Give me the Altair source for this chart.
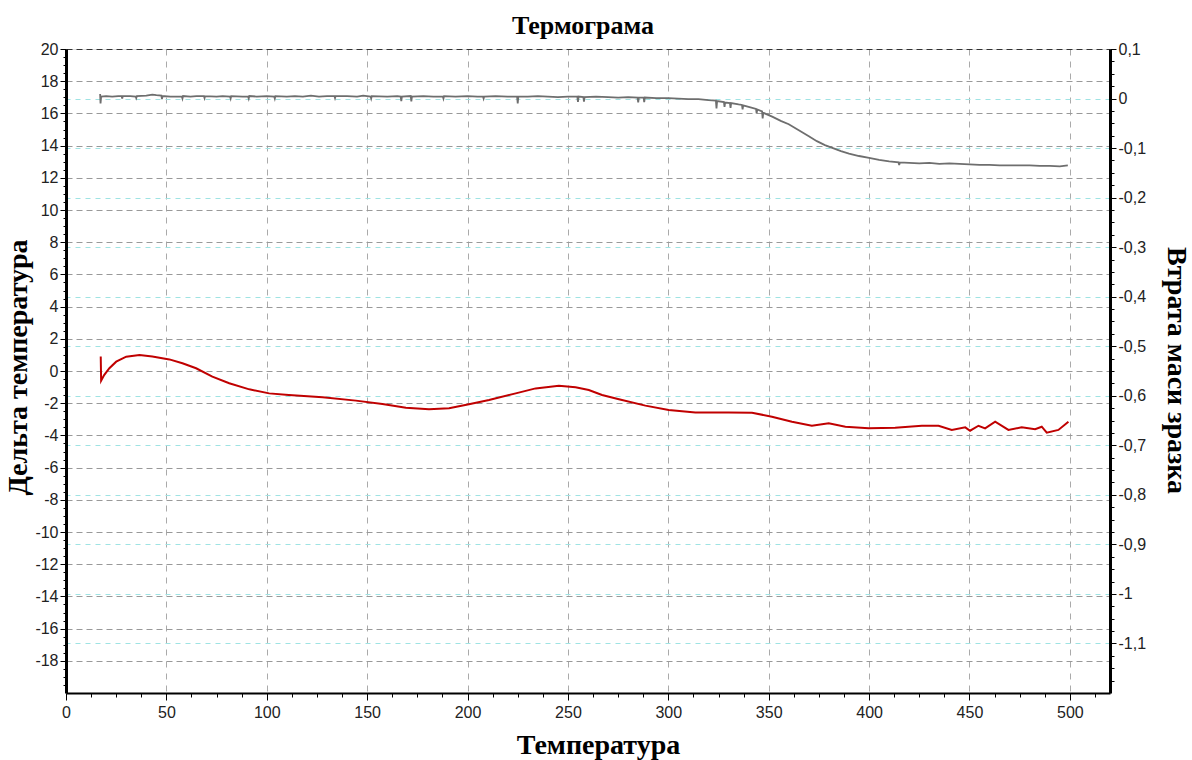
import altair as alt
import pandas as pd

# Red curve: delta temperature (left axis)
red_t = [17.3, 17.5, 19, 21.6, 25, 30, 36.6, 43, 51.5, 58, 64.8, 72.9, 81.3, 91.3, 101.2, 111,
         127.8, 144.4, 157.6, 169.3, 180.8, 190.8, 200.7, 210.7, 224, 233.9, 245.5, 253.8, 260.4,
         267, 275.4, 288.6, 300.2, 313.5, 330, 341.7, 351.6, 361.6, 371.5, 379.9, 388.2, 399.8,
         413, 426.3, 434.6, 441.2, 447.9, 450.3, 454.5, 457.8, 462.8, 469.4, 476, 482.7, 486,
         488.5, 494.3, 499.3]
red_v = [0.9, -0.6, -0.25, 0.17, 0.58, 0.89, 0.99, 0.9, 0.72, 0.48, 0.17, -0.35, -0.76, -1.14,
         -1.39, -1.49, -1.63, -1.84, -2.05, -2.28, -2.38, -2.32, -2.07, -1.80, -1.39, -1.08, -0.91,
         -1.01, -1.18, -1.49, -1.76, -2.15, -2.42, -2.57, -2.57, -2.59, -2.84, -3.15, -3.40, -3.25,
         -3.46, -3.56, -3.52, -3.40, -3.40, -3.66, -3.50, -3.71, -3.40, -3.56, -3.15, -3.66, -3.50,
         -3.62, -3.46, -3.83, -3.66, -3.15]

# Grey curve: mass loss (right axis)
grey_t = [17.0, 17.2, 17.5, 20, 23, 26, 27.7, 28, 28.3, 32, 34.7, 35, 35.3, 40, 43, 45, 47.5, 47.8,
          48.1, 52, 55, 57.7, 58, 58.3, 62, 65, 68.7, 69, 69.3, 75, 78, 81.7, 82, 82.3, 88, 90.7,
          91, 91.3, 95, 100, 103.7, 104, 104.3, 110, 114, 118, 122, 126, 130, 133.7, 134, 134.3,
          140, 145, 148, 151.7, 152, 152.3, 160, 165, 166.7, 167, 167.3, 171.7, 172, 172.3, 178,
          183, 187.7, 188, 188.3, 194, 200, 205, 207.7, 208, 208.3, 214, 220, 224.7, 225, 225.3,
          230, 235, 240, 245, 250, 254.7, 255, 255.3, 257.7, 258, 258.3, 264, 270, 275, 280,
          284.7, 285, 285.3, 287.7, 288, 288.3, 294, 300, 305, 310, 315, 320, 323.7, 324, 324.3,
          327.7, 328, 328.3, 330.7, 331, 331.3, 335, 336.7, 337, 337.3, 340, 343.7, 344, 344.3,
          346.7, 347, 347.3, 348, 352, 356, 360, 365, 370, 374, 378, 382, 386, 390, 395, 400,
          405, 410, 414.7, 415, 415.3, 420, 425, 430, 435, 440, 445, 450, 455, 460, 465, 470,
          475, 480, 485, 490, 495, 499]
grey_v = [0.009, -0.010, 0.004, 0.005, 0.004, 0.005, 0.005, 0.000, 0.005, 0.005, 0.004, 0.001,
          0.005, 0.006, 0.008, 0.007, 0.006, -0.001, 0.005, 0.004, 0.004, 0.004, 0.000, 0.005,
          0.004, 0.005, 0.005, 0.001, 0.005, 0.004, 0.005, 0.004, 0.000, 0.005, 0.004, 0.004,
          0.000, 0.005, 0.004, 0.005, 0.004, 0.000, 0.005, 0.004, 0.005, 0.004, 0.006, 0.004,
          0.005, 0.005, 0.001, 0.005, 0.005, 0.004, 0.006, 0.004, 0.000, 0.005, 0.004, 0.005,
          0.004, -0.005, 0.004, 0.005, -0.006, 0.004, 0.005, 0.004, 0.004, 0.000, 0.005, 0.004,
          0.005, 0.004, 0.004, 0.000, 0.004, 0.005, 0.004, 0.004, -0.010, 0.004, 0.004, 0.005,
          0.004, 0.003, 0.004, 0.004, -0.007, 0.004, 0.003, -0.006, 0.003, 0.004, 0.003, 0.002,
          0.003, 0.002, -0.008, 0.002, 0.002, -0.007, 0.002, 0.001, 0.001, 0.000, -0.001, -0.001,
          -0.003, -0.004, -0.020, -0.005, -0.007, -0.017, -0.008, -0.009, -0.019, -0.009, -0.012,
          -0.013, -0.022, -0.014, -0.017, -0.021, -0.030, -0.022, -0.026, -0.040, -0.028, -0.030,
          -0.037, -0.045, -0.052, -0.064, -0.076, -0.086, -0.094, -0.100, -0.106, -0.111, -0.116,
          -0.120, -0.124, -0.127, -0.129, -0.134, -0.129, -0.130, -0.131, -0.130, -0.132, -0.131,
          -0.132, -0.133, -0.134, -0.134, -0.135, -0.135, -0.135, -0.135, -0.136, -0.136, -0.137,
          -0.135]

x_ticks = [12.5 * i for i in range(42)]
left_ticks = [0.5 * i for i in range(-39, 41)]
right_ticks = [round(-1.175 + 0.025 * i, 3) for i in range(52)]

df_red = pd.DataFrame({"t": red_t, "v": red_v})
df_grey = pd.DataFrame({"t": grey_t, "v": grey_v})

LABEL_FONT = "Liberation Sans"
TITLE_FONT = "Liberation Serif"

x_axis = alt.Axis(
    values=x_ticks,
    labelExpr="datum.value % 50 == 0 ? '' + datum.value : ''",
    title="Температура",
    titleFont=TITLE_FONT, titleFontSize=28, titleFontWeight="bold", titleColor="#000",
    titleX=532, titleY=52, titleBaseline="middle", titleAlign="center",
    labelFont=LABEL_FONT, labelFontSize=16, labelColor="#222", labelPadding=4,
    domainColor="#000", domainWidth=2,
    tickColor="#000", tickWidth=1,
    tickSize={"condition": {"test": "datum.value % 50 == 0", "value": 7}, "value": 4},
    grid=True,
    gridColor="#aaaaaa", gridDash=[6, 6], gridWidth=1,
    gridOpacity={"condition": {"test": "datum.value % 50 == 0 && datum.value > 0", "value": 1}, "value": 0},
    labelFlush=False, labelOverlap=False,
)

x_enc = alt.X("t:Q", scale=alt.Scale(domain=[0, 520], nice=False, zero=False), axis=x_axis)

left_axis = alt.Axis(
    orient="left",
    values=left_ticks,
    labelExpr="datum.value % 2 == 0 ? (datum.value < 0 ? '-' + abs(datum.value) : '' + datum.value) : ''",
    title="Дельта температура",
    titleFont=TITLE_FONT, titleFontSize=28, titleFontWeight="bold", titleColor="#000",
    titleX=-48, titleY=318, titleBaseline="middle", titleAlign="center",
    labelFont=LABEL_FONT, labelFontSize=16, labelColor="#222", labelPadding=2,
    domainColor="#000", domainWidth=3,
    tickColor="#000", tickWidth=1,
    tickSize={"condition": {"test": "datum.value % 2 == 0", "value": 6}, "value": 3},
    grid=True,
    gridColor={"condition": {"test": "datum.value == 20", "value": "#333333"}, "value": "#999999"},
    gridDash=[6, 4], gridWidth=1,
    gridOpacity={"condition": {"test": "datum.value % 2 == 0", "value": 1}, "value": 0},
    labelFlush=False, labelOverlap=False,
)

right_axis = alt.Axis(
    orient="right",
    values=right_ticks,
    labelExpr="abs(datum.value*10 - round(datum.value*10)) < 0.001 ? (datum.value < -0.001 ? '-' : '') + replace(format(abs(datum.value), '.1~f'), '.', ',') : ''",
    title="Втрата маси зразка",
    titleFont=TITLE_FONT, titleFontSize=28, titleFontWeight="bold", titleColor="#000",
    titleX=65, titleY=321, titleBaseline="middle", titleAlign="center",
    labelFont=LABEL_FONT, labelFontSize=16, labelColor="#222", labelPadding=2,
    domainColor="#000", domainWidth=3,
    tickColor="#000", tickWidth=1,
    tickSize={"condition": {"test": "abs(datum.value*10 - round(datum.value*10)) < 0.001", "value": 6}, "value": 4},
    grid=True,
    gridColor="#9fe3e3", gridDash=[5, 5], gridWidth=1,
    gridOpacity={"condition": {"test": "abs(datum.value*10 - round(datum.value*10)) < 0.001 && datum.value < 0.09", "value": 1}, "value": 0},
    labelFlush=False, labelOverlap=False,
)

red = alt.Chart(df_red).mark_line(color="#c00000", strokeWidth=2).encode(
    x=x_enc,
    y=alt.Y("v:Q", scale=alt.Scale(domain=[-20, 20], nice=False, zero=False), axis=left_axis),
    order="t:Q",
)

grey = alt.Chart(df_grey).mark_line(color="#6e6e6e", strokeWidth=1.8).encode(
    x=x_enc,
    y=alt.Y("v:Q", scale=alt.Scale(domain=[-1.2, 0.1], nice=False, zero=False), axis=right_axis),
    order="t:Q",
)

chart = alt.layer(red, grey).resolve_scale(y="independent").properties(
    width=1044,
    height=644,
    padding={"left": 66, "top": 49, "right": 82, "bottom": 67},
    autosize=alt.AutoSizeParams(type="none"),
    title=alt.TitleParams(
        "Термограма", font=TITLE_FONT, fontSize=26, fontWeight="bold", color="#000",
        anchor="middle", offset=2, dx=-5,
    ),
).configure_view(stroke=None).configure(background="white")

chart.save("out.html", embed_options={"renderer": "svg", "actions": False})
